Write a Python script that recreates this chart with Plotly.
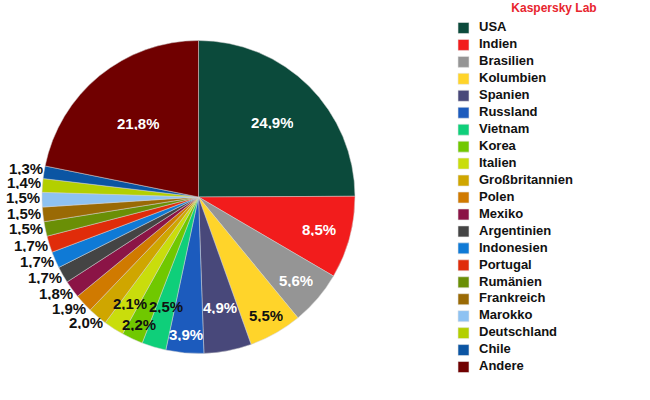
import math
import plotly.graph_objects as go

# data
countries = ['USA', 'Indien', 'Brasilien', 'Kolumbien', 'Spanien', 'Russland',
             'Vietnam', 'Korea', 'Italien', 'Großbritannien', 'Polen', 'Mexiko',
             'Argentinien', 'Indonesien', 'Portugal', 'Rumänien', 'Frankreich',
             'Marokko', 'Deutschland', 'Chile', 'Andere']
shares = [24.9, 8.5, 5.6, 5.5, 4.9, 3.9, 2.5, 2.2, 2.1, 2.0, 1.9, 1.8,
          1.7, 1.7, 1.7, 1.5, 1.5, 1.5, 1.4, 1.3, 21.8]
colors = ['#0b4a3b', '#f21c1c', '#959595', '#ffd42a', '#48487a', '#1c5bbd',
          '#0fcf7a', '#70c800', '#c9dd0c', '#cfa600', '#d07a00', '#8b1446',
          '#444444', '#0f7ad6', '#e02c0a', '#6a8f06', '#9a6a05', '#8ec2f2',
          '#b3cf00', '#0b55a3', '#700000']

# label placement: fraction of radius for labels inside, None = outside
label_r = [0.67, 0.80, 0.82, 0.87, 0.72, 0.88, 0.73, 0.90, 0.81] + [None] * 11 + [0.61]
white_lbl = {'USA', 'Indien', 'Brasilien', 'Spanien', 'Russland', 'Andere'}

font = 'Liberation Sans, Arial, sans-serif'
# pie box in pixels (centre 198.5/197, radius 156.5)
px0, px1, py0, py1 = 42, 355, 40.5, 353.5
R = (px1 - px0) / 2

fig = go.Figure()

fig.add_trace(go.Pie(
    labels=countries, values=shares, sort=False, direction='clockwise',
    rotation=0, textinfo='none',
    marker=dict(colors=colors, line=dict(color='#d0d0d0', width=0.5)),
    showlegend=False, hoverinfo='label+value',
    domain=dict(x=[px0 / 650, px1 / 650], y=[1 - py1 / 400, 1 - py0 / 400]),
))

# percentage labels, positioned from each slice's middle angle
total = sum(shares)
cum = 0
labels = []
for name, v, k in zip(countries, shares, label_r):
    a = 2 * math.pi * (cum + v / 2) / total
    cum += v
    s = f'<b>{v:.1f}%</b>'.replace('.', ',')
    if k is not None:
        x, y, xa = k * math.sin(a), k * math.cos(a), 'center'
        col = 'white' if name in white_lbl else '#111111'
    else:
        shift = (-2.5 + 11 * -math.cos(a)) / R
        y = math.cos(a) - shift
        x = math.copysign(math.sqrt(max(0, 1 - y * y)), math.sin(a))
        xa = 'right' if x < 0 else 'left'
        col = '#111111'
    labels.append(dict(x=x, y=y, xref='x2', yref='y2', text=s,
                       showarrow=False, xanchor=xa, yanchor='middle',
                       xshift=-1 if xa == 'right' else 0,
                       height=13, borderpad=0,
                       font=dict(family=font, size=15, color=col)))

# legend drawn as a column of squares and names
idx = list(range(len(countries)))
fig.add_trace(go.Scatter(
    x=[0] * len(countries), y=idx, mode='markers',
    marker=dict(symbol='square', size=11, color=colors,
                line=dict(color='#e6e6e6', width=0.6)),
    showlegend=False, hoverinfo='skip',
))
fig.add_trace(go.Scatter(
    x=[15.5] * len(countries), y=idx, mode='text',
    text=[f'<b>{c}</b>' for c in countries],
    textposition='middle right',
    textfont=dict(family=font, size=13, color='#111111'),
    showlegend=False, hoverinfo='skip', cliponaxis=False,
))

fig.update_layout(
    width=650, height=400,
    margin=dict(l=0, r=0, t=0, b=0),
    paper_bgcolor='white', plot_bgcolor='rgba(0,0,0,0)',
    title=dict(text='<b>Kaspersky Lab</b>', x=554 / 650, xanchor='center',
               y=1 - 8 / 400, yanchor='middle',
               font=dict(family=font, size=12, color='#e8252e')),
    annotations=labels,
    xaxis=dict(domain=[455 / 650, 1.0], range=[-8.5, 186.5], visible=False,
               fixedrange=True),
    yaxis=dict(domain=[1 - 375.5 / 400, 1 - 19.5 / 400],
               range=[len(countries) - 0.5, -0.5], visible=False,
               fixedrange=True),
    xaxis2=dict(domain=[px0 / 650, px1 / 650], range=[-1, 1], visible=False,
                fixedrange=True, anchor='y2'),
    yaxis2=dict(domain=[1 - py1 / 400, 1 - py0 / 400], range=[-1, 1],
                visible=False, fixedrange=True, anchor='x2'),
)

# drop the default 8px body margin so the figure fills the window
fig.write_html('out.html', config={'displayModeBar': False},
               post_script="document.body.style.margin='0';")
